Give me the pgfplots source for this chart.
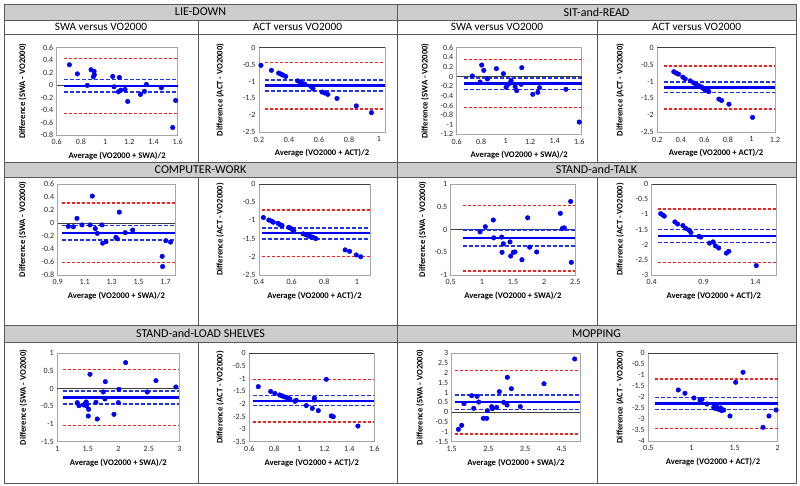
\documentclass[border=0pt]{standalone}
\usepackage{fontspec}
\setmainfont{Carlito}
\usepackage{pgfplots}
\pgfplotsset{compat=1.18}

\definecolor{ptblue}{RGB}{0,0,245}
\definecolor{ciblue}{RGB}{30,50,240}
\definecolor{loared}{RGB}{250,30,30}
\definecolor{band}{RGB}{205,205,205}
\definecolor{rule}{RGB}{90,90,90}

\pgfplotsset{
  ba/.style={
    scale only axis, anchor=south west, clip=false,
    axis line style={draw=black!35, line width=0.5pt},
    major tick length=0pt,
    tick label style={font=\fontsize{8}{9}\selectfont, text=black!85},
    /pgf/number format/assume math mode=true,
    every axis label/.append style={font=\bfseries\fontsize{8.6}{10}\selectfont},
    every axis x label/.style={at={(axis description cs:0.5,0)}, anchor=center, yshift=-21pt},
    xticklabel style={yshift=-1pt},
    extra y ticks={0}, extra y tick labels={},
    extra y tick style={grid=major, major grid style={draw=black!75, line width=0.6pt}},
  },
  ylab/.style={every axis y label/.style={at={(axis description cs:0,0.5)}, anchor=center, xshift=#1, rotate=90}},
  swa/.style={xlabel={Average (VO2000 + SWA)/2}, ylabel={Difference (SWA - VO2000)}},
  act/.style={xlabel={Average (VO2000 + ACT)/2}, ylabel={Difference (ACT - VO2000)}},
  bamean/.style={no marks, draw=ptblue, line width=2.3pt},
  baconf/.style={no marks, draw=ciblue, line width=1.5pt, dash pattern=on 4pt off 2pt},
  balimit/.style={no marks, draw=loared, line width=1.5pt, dash pattern=on 3pt off 2pt},
  bapts/.style={only marks, mark=*, mark size=2.3pt, draw=ptblue, fill=ptblue},
}

\begin{document}
\begin{tikzpicture}[x=1pt, y=1pt]
\useasboundingbox (0,0) rectangle (800,486);

% table: grey header bands and rules
\fill[band] (4,466) rectangle (796,482);
\fill[band] (4,309) rectangle (796,324);
\fill[band] (4,144) rectangle (796,161);
\draw[rule, line width=0.7pt] (4,3) rectangle (796,482);
\foreach \yy in {466,452,324,309,161,144} \draw[rule, line width=0.7pt] (4,\yy) -- (796,\yy);
\draw[rule, line width=0.7pt] (397,3) -- (397,482);
\foreach \xx in {198,597} {
  \draw[rule, line width=0.7pt] (\xx,466) -- (\xx,324);
  \draw[rule, line width=0.7pt] (\xx,309) -- (\xx,161);
  \draw[rule, line width=0.7pt] (\xx,144) -- (\xx,3);
}
\begin{scope}[every node/.style={font=\fontsize{12}{14}\selectfont, inner sep=0pt}]
\node at (200.5,474) {LIE-DOWN};
\node at (596.5,474) {SIT-and-READ};
\node at (200.5,316.5) {COMPUTER-WORK};
\node at (596.5,316.5) {STAND-and-TALK};
\node at (200.5,152.5) {STAND-and-LOAD SHELVES};
\node at (596.5,152.5) {MOPPING};
\end{scope}
\begin{scope}[every node/.style={font=\fontsize{11.3}{13}\selectfont, inner sep=0pt}]
\node at (101,459) {SWA versus VO2000};
\node at (297.5,459) {ACT versus VO2000};
\node at (497,459) {SWA versus VO2000};
\node at (696.5,459) {ACT versus VO2000};
\end{scope}

% ---------------- LIE-DOWN, SWA
\begin{axis}[ba, swa, ylab=-34pt, at={(56.7pt,351pt)}, width=121pt, height=87.3pt,
  xmin=0.6, xmax=1.6, ymin=-0.8, ymax=0.6,
  xtick={0.6,0.8,1,1.2,1.4,1.6}, ytick={-0.8,-0.6,-0.4,-0.2,0,0.2,0.4,0.6}]
\addplot[balimit] coordinates {(0.66,0.428) (1.6,0.428)};
\addplot[balimit] coordinates {(0.66,-0.452) (1.6,-0.452)};
\addplot[baconf] coordinates {(0.66,0.088) (1.6,0.088)};
\addplot[baconf] coordinates {(0.66,-0.112) (1.6,-0.112)};
\addplot[bamean] coordinates {(0.66,-0.012) (1.6,-0.012)};
\addplot[bapts] coordinates {
  (0.705,0.326) (0.771,0.18) (0.853,-0.005) (0.884,0.246) (0.909,0.22)
  (0.911,0.166) (0.903,0.134) (1.063,0.139) (1.074,-0.027) (1.118,0.123)
  (1.11,-0.107) (1.13,-0.08) (1.165,-0.07) (1.187,-0.262) (1.292,-0.15)
  (1.325,-0.10) (1.341,0.01) (1.465,-0.043) (1.583,-0.246) (1.559,-0.68)};
\end{axis}

% ---------------- LIE-DOWN, ACT
\begin{axis}[ba, act, ylab=-39pt, at={(259pt,353.7pt)}, width=126pt, height=84.6pt,
  xmin=0.2, xmax=1.04, ymin=-2.5, ymax=0,
  xtick={0.2,0.4,0.6,0.8,1}, ytick={-2.5,-2,-1.5,-1,-0.5,0}]
\addplot[balimit] coordinates {(0.24,-0.435) (1.04,-0.435)};
\addplot[balimit] coordinates {(0.24,-1.805) (1.04,-1.805)};
\addplot[baconf] coordinates {(0.24,-0.96) (1.04,-0.96)};
\addplot[baconf] coordinates {(0.24,-1.28) (1.04,-1.28)};
\addplot[bamean] coordinates {(0.24,-1.12) (1.04,-1.12)};
\addplot[bapts] coordinates {
  (0.213,-0.52) (0.283,-0.67) (0.331,-0.75) (0.346,-0.78) (0.36,-0.81)
  (0.378,-0.85) (0.457,-0.98) (0.473,-1.01) (0.493,-1.06) (0.506,-1.08)
  (0.545,-1.14) (0.556,-1.17) (0.56,-1.21) (0.621,-1.31) (0.639,-1.34)
  (0.659,-1.38) (0.72,-1.50) (0.849,-1.72) (0.95,-1.92)};
\end{axis}

% ---------------- SIT-and-READ, SWA
\begin{axis}[ba, swa, ylab=-31.7pt, at={(456.7pt,351.7pt)}, width=125pt, height=86.6pt,
  xmin=0.6, xmax=1.62, ymin=-1.2, ymax=0.6,
  xtick={0.6,0.8,1,1.2,1.4,1.6}, ytick={-1.2,-1,-0.8,-0.6,-0.4,-0.2,0,0.2,0.4,0.6}]
\addplot[balimit] coordinates {(0.66,0.355) (1.62,0.355)};
\addplot[balimit] coordinates {(0.66,-0.645) (1.62,-0.645)};
\addplot[baconf] coordinates {(0.66,-0.025) (1.62,-0.025)};
\addplot[baconf] coordinates {(0.66,-0.265) (1.62,-0.265)};
\addplot[bamean] coordinates {(0.66,-0.145) (1.62,-0.145)};
\addplot[bapts] coordinates {
  (0.728,0.012) (0.804,0.239) (0.821,0.128) (0.791,-0.113) (0.851,-0.05)
  (0.924,0.164) (0.981,0.06) (1.003,-0.224) (1.014,-0.175) (1.036,-0.134)
  (1.044,-0.085) (1.077,-0.21) (1.09,-0.293) (1.131,0.185) (1.126,-0.161)
  (1.221,-0.369) (1.262,-0.328) (1.276,-0.231) (1.491,-0.265) (1.6,-0.945)};
\end{axis}

% ---------------- SIT-and-READ, ACT
\begin{axis}[ba, act, ylab=-37.3pt, at={(657.3pt,353.7pt)}, width=117.7pt, height=84.6pt,
  xmin=0.2, xmax=1.2, ymin=-2.5, ymax=0,
  xtick={0.2,0.4,0.6,0.8,1,1.2}, ytick={-2.5,-2,-1.5,-1,-0.5,0}]
\addplot[balimit] coordinates {(0.26,-0.54) (1.2,-0.54)};
\addplot[balimit] coordinates {(0.26,-1.81) (1.2,-1.81)};
\addplot[baconf] coordinates {(0.26,-1.02) (1.2,-1.02)};
\addplot[baconf] coordinates {(0.26,-1.33) (1.2,-1.33)};
\addplot[bamean] coordinates {(0.26,-1.175) (1.2,-1.175)};
\addplot[bapts] coordinates {
  (0.34,-0.71) (0.36,-0.75) (0.38,-0.78) (0.417,-0.87) (0.437,-0.92)
  (0.48,-0.98) (0.509,-1.04) (0.529,-1.08) (0.551,-1.12) (0.574,-1.16)
  (0.586,-1.19) (0.6,-1.23) (0.614,-1.27) (0.629,-1.25) (0.637,-1.30)
  (0.723,-1.52) (0.746,-1.56) (0.809,-1.67) (1.009,-2.06)};
\end{axis}

% ---------------- COMPUTER-WORK, SWA
\begin{axis}[ba, swa, ylab=-35pt, at={(57.7pt,211pt)}, width=117.3pt, height=91pt,
  xmin=0.9, xmax=1.77, ymin=-0.8, ymax=0.6,
  xtick={0.9,1.1,1.3,1.5,1.7}, ytick={-0.8,-0.6,-0.4,-0.2,0,0.2,0.4,0.6}]
\addplot[balimit] coordinates {(0.93,0.31) (1.77,0.31)};
\addplot[balimit] coordinates {(0.93,-0.61) (1.77,-0.61)};
\addplot[baconf] coordinates {(0.93,-0.04) (1.77,-0.04)};
\addplot[baconf] coordinates {(0.93,-0.26) (1.77,-0.26)};
\addplot[bamean] coordinates {(0.93,-0.15) (1.77,-0.15)};
\addplot[bapts] coordinates {
  (0.979,-0.052) (1.016,-0.058) (1.043,0.071) (1.08,-0.03) (1.14,-0.03)
  (1.157,0.414) (1.179,-0.086) (1.194,-0.159) (1.228,-0.03) (1.233,-0.311)
  (1.258,-0.288) (1.332,-0.221) (1.342,-0.243) (1.357,0.167) (1.401,-0.148)
  (1.456,-0.108) (1.675,-0.513) (1.702,-0.272) (1.737,-0.294) (1.678,-0.67)};
\end{axis}

% ---------------- COMPUTER-WORK, ACT
\begin{axis}[ba, act, ylab=-39pt, at={(259pt,211pt)}, width=111pt, height=91pt,
  xmin=0.4, xmax=1.08, ymin=-2.5, ymax=0,
  xtick={0.4,0.6,0.8,1}, ytick={-2.5,-2,-1.5,-1,-0.5,0}]
\addplot[balimit] coordinates {(0.42,-0.72) (1.08,-0.72)};
\addplot[balimit] coordinates {(0.42,-1.99) (1.08,-1.99)};
\addplot[baconf] coordinates {(0.42,-1.205) (1.08,-1.205)};
\addplot[baconf] coordinates {(0.42,-1.505) (1.08,-1.505)};
\addplot[bamean] coordinates {(0.42,-1.355) (1.08,-1.355)};
\addplot[bapts] coordinates {
  (0.427,-0.92) (0.46,-0.99) (0.477,-1.02) (0.487,-1.05) (0.516,-1.08)
  (0.53,-1.12) (0.541,-1.14) (0.582,-1.19) (0.592,-1.21) (0.605,-1.25)
  (0.613,-1.28) (0.671,-1.37) (0.69,-1.40) (0.706,-1.43) (0.721,-1.45)
  (0.733,-1.47) (0.748,-1.50) (0.928,-1.81) (0.955,-1.85) (0.996,-1.95)
  (1.023,-2.0)};
\end{axis}

% ---------------- STAND-and-TALK, SWA
\begin{axis}[ba, swa, ylab=-28pt, at={(450.7pt,211pt)}, width=124.6pt, height=91pt,
  xmin=0.5, xmax=2.5, ymin=-1, ymax=1,
  xtick={0.5,1,1.5,2,2.5}, ytick={-1,-0.5,0,0.5,1}]
\addplot[balimit] coordinates {(0.7,0.53) (2.5,0.53)};
\addplot[balimit] coordinates {(0.7,-0.91) (2.5,-0.91)};
\addplot[baconf] coordinates {(0.7,-0.015) (2.5,-0.015)};
\addplot[baconf] coordinates {(0.7,-0.365) (2.5,-0.365)};
\addplot[bamean] coordinates {(0.7,-0.19) (2.5,-0.19)};
\addplot[bapts] coordinates {
  (0.971,-0.053) (1.056,0.061) (1.184,0.208) (1.19,-0.184) (1.318,-0.167)
  (1.345,-0.314) (1.324,-0.502) (1.452,-0.273) (1.463,-0.584) (1.505,-0.502)
  (1.532,-0.494) (1.644,-0.665) (1.735,0.257) (1.767,-0.388) (1.88,-0.494)
  (2.259,0.355) (2.291,0.02) (2.324,0.037) (2.425,0.616) (2.436,-0.722)};
\end{axis}

% ---------------- STAND-and-TALK, ACT
\begin{axis}[ba, act, ylab=-31.7pt, at={(651.7pt,211pt)}, width=124.3pt, height=91pt,
  xmin=0.4, xmax=1.6, ymin=-3, ymax=0,
  xtick={0.4,0.9,1.4}, ytick={-3,-2.5,-2,-1.5,-1,-0.5,0}]
\addplot[balimit] coordinates {(0.46,-0.83) (1.6,-0.83)};
\addplot[balimit] coordinates {(0.46,-2.59) (1.6,-2.59)};
\addplot[baconf] coordinates {(0.46,-1.495) (1.6,-1.495)};
\addplot[baconf] coordinates {(0.46,-1.925) (1.6,-1.925)};
\addplot[bamean] coordinates {(0.46,-1.71) (1.6,-1.71)};
\addplot[bapts] coordinates {
  (0.487,-0.98) (0.506,-1.02) (0.522,-1.06) (0.624,-1.25) (0.65,-1.32)
  (0.701,-1.37) (0.727,-1.46) (0.759,-1.52) (0.778,-1.60) (0.855,-1.73)
  (0.874,-1.75) (0.958,-1.95) (0.993,-1.91) (1.015,-2.04) (1.047,-2.11)
  (1.121,-2.28) (1.144,-2.22) (1.41,-2.69)};
\end{axis}

% ---------------- STAND-and-LOAD SHELVES, SWA
\begin{axis}[ba, swa, ylab=-34pt, at={(57.3pt,44.3pt)}, width=122pt, height=88.4pt,
  xmin=1, xmax=3, ymin=-1.5, ymax=1,
  xtick={1,1.5,2,2.5,3}, ytick={-1.5,-1,-0.5,0,0.5,1}]
\addplot[balimit] coordinates {(1.1,0.545) (3,0.545)};
\addplot[balimit] coordinates {(1.1,-1.045) (3,-1.045)};
\addplot[baconf] coordinates {(1.1,-0.065) (3,-0.065)};
\addplot[baconf] coordinates {(1.1,-0.435) (3,-0.435)};
\addplot[bamean] coordinates {(1.1,-0.25) (3,-0.25)};
\addplot[bapts] coordinates {
  (1.328,-0.396) (1.355,-0.481) (1.432,-0.462) (1.459,-0.415) (1.481,-0.49)
  (1.475,-0.377) (1.514,-0.585) (1.508,-0.774) (1.536,0.406) (1.634,-0.387)
  (1.656,-0.858) (1.754,-0.094) (1.781,-0.292) (1.787,0.198) (1.929,-0.726)
  (2.0,-0.396) (2.011,-0.019) (2.12,0.736) (2.475,-0.094) (2.617,0.226)
  (2.945,0.047)};
\end{axis}

% ---------------- STAND-and-LOAD SHELVES, ACT
\begin{axis}[ba, act, ylab=-29.3pt, at={(249.3pt,44.3pt)}, width=125pt, height=88.4pt,
  xmin=0.6, xmax=1.6, ymin=-3.5, ymax=0,
  xtick={0.6,0.8,1,1.2,1.4,1.6}, ytick={-3.5,-3,-2.5,-2,-1.5,-1,-0.5,0}]
\addplot[balimit] coordinates {(0.63,-1.035) (1.6,-1.035)};
\addplot[balimit] coordinates {(0.63,-2.715) (1.6,-2.715)};
\addplot[baconf] coordinates {(0.63,-1.675) (1.6,-1.675)};
\addplot[baconf] coordinates {(0.63,-2.075) (1.6,-2.075)};
\addplot[bamean] coordinates {(0.63,-1.875) (1.6,-1.875)};
\addplot[bapts] coordinates {
  (0.672,-1.32) (0.771,-1.51) (0.805,-1.59) (0.843,-1.65) (0.859,-1.68)
  (0.877,-1.72) (0.893,-1.74) (0.912,-1.78) (0.925,-1.81) (0.965,-1.90)
  (0.976,-1.86) (1.056,-2.07) (1.104,-2.18) (1.12,-1.77) (1.12,-1.85)
  (1.152,-2.27) (1.216,-1.03) (1.256,-2.48) (1.272,-2.51) (1.469,-2.88)};
\end{axis}

% ---------------- MOPPING, SWA
\begin{axis}[ba, swa, ylab=-31.7pt, at={(451.7pt,44.3pt)}, width=128.3pt, height=88.4pt,
  xmin=1.5, xmax=5, ymin=-1.5, ymax=3,
  xtick={1.5,2.5,3.5,4.5}, ytick={-1.5,-1,-0.5,0,0.5,1,1.5,2,2.5,3}]
\addplot[balimit] coordinates {(1.6,2.115) (5,2.115)};
\addplot[balimit] coordinates {(1.6,-1.105) (5,-1.105)};
\addplot[baconf] coordinates {(1.6,0.87) (5,0.87)};
\addplot[baconf] coordinates {(1.6,0.14) (5,0.14)};
\addplot[bamean] coordinates {(1.6,0.505) (5,0.505)};
\addplot[bapts] coordinates {
  (1.682,-0.871) (1.773,-0.667) (1.836,0.436) (2.045,0.844) (2.1,0.199)
  (2.191,0.81) (2.236,0.521) (2.364,-0.311) (2.455,-0.311) (2.473,0.08)
  (2.591,0.284) (2.609,0.182) (2.727,0.25) (2.8,1.048) (2.918,0.504)
  (3.018,1.778) (3.009,0.368) (3.127,1.197) (3.373,0.284) (4.018,1.452)
  (4.855,2.711)};
\end{axis}

% ---------------- MOPPING, ACT
\begin{axis}[ba, act, ylab=-28.3pt, at={(648.3pt,45pt)}, width=129.4pt, height=87.7pt,
  xmin=0.5, xmax=2, ymin=-4, ymax=0,
  xtick={0.5,1,1.5,2}, ytick={-4,-3.5,-3,-2.5,-2,-1.5,-1,-0.5,0}]
\addplot[balimit] coordinates {(0.58,-1.17) (2,-1.17)};
\addplot[balimit] coordinates {(0.58,-3.42) (2,-3.42)};
\addplot[baconf] coordinates {(0.58,-2.025) (2,-2.025)};
\addplot[baconf] coordinates {(0.58,-2.565) (2,-2.565)};
\addplot[bamean] coordinates {(0.58,-2.295) (2,-2.295)};
\addplot[bapts] coordinates {
  (0.848,-1.673) (0.925,-1.825) (1.03,-2.038) (1.099,-2.129) (1.123,-2.099)
  (1.18,-2.312) (1.258,-2.464) (1.273,-2.51) (1.292,-2.403) (1.312,-2.555)
  (1.339,-2.494) (1.35,-2.616) (1.374,-2.586) (1.447,-2.859) (1.513,-1.323)
  (1.598,-0.867) (1.83,-3.376) (1.899,-2.859) (1.981,-2.586)};
\end{axis}
\end{tikzpicture}
\end{document}
